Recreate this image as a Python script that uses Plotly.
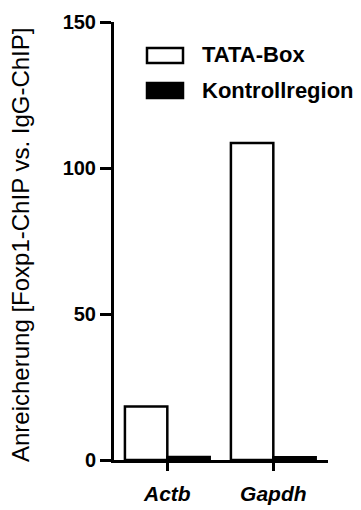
import plotly.graph_objects as go

genes = ["Actb", "Gapdh"]
series_names = ["TATA-Box", "Kontrollregion"]
tata_box = [18.3, 108.6]
kontrollregion = [1.0, 0.9]
y_ticks = [0, 50, 100, 150]

FONT = "Liberation Sans, Arial, sans-serif"

fig = go.Figure()
fig.add_trace(go.Bar(x=genes, y=tata_box, name=series_names[0],
                     marker=dict(color="white", line=dict(color="black", width=2.5)),
                     showlegend=False))
fig.add_trace(go.Bar(x=genes, y=kontrollregion, name=series_names[1],
                     marker=dict(color="black", line=dict(color="black", width=2.5)),
                     showlegend=False))

W, H = 361, 510
L, R, T, B = 114, 33, 22, 50
pw, ph = W - L - R, H - T - B

def px(x):
    return (x - L) / pw

def py(y):
    return (H - B - y) / ph

# custom legend
fig.add_shape(type="rect", xref="paper", yref="paper",
              x0=px(147), x1=px(183), y0=py(63), y1=py(48),
              line=dict(color="black", width=2.5), fillcolor="white")
fig.add_shape(type="rect", xref="paper", yref="paper",
              x0=px(147), x1=px(183), y0=py(98), y1=py(83),
              line=dict(color="black", width=2.5), fillcolor="black")
for name, yy in zip(series_names, [55, 90]):
    fig.add_annotation(text=f"<b>{name}</b>", xref="paper", yref="paper",
                       x=px(200), y=py(yy), xanchor="left", yanchor="middle",
                       showarrow=False, font=dict(family=FONT, size=22, color="black"))

fig.add_annotation(text="Anreicherung [Foxp1-ChIP vs. IgG-ChIP]", xref="paper", yref="paper",
                   x=px(20), y=py(245), xanchor="center", yanchor="middle", textangle=-90,
                   showarrow=False, font=dict(family=FONT, size=24, color="black"))

fig.update_layout(
    width=W, height=H,
    margin=dict(l=L, r=R, t=T, b=B, pad=0),
    plot_bgcolor="white", paper_bgcolor="white",
    barmode="group", bargap=0.2, bargroupgap=0,
    font=dict(family=FONT, color="black"),
    hovermode=False,
)
fig.update_xaxes(range=[-0.503, 1.516], showline=True, linecolor="black", linewidth=3,
                 ticks="outside", ticklen=8, tickwidth=2.5, tickcolor="black",
                 tickvals=genes, ticktext=[f"<b><i>{g}</i></b>" for g in genes],
                 tickfont=dict(family=FONT, size=21), showgrid=False, zeroline=False,
                 ticklabelstandoff=5, automargin=False, fixedrange=True)
fig.update_yaxes(range=[0, 150], showline=True, linecolor="black", linewidth=3,
                 ticks="outside", ticklen=11, tickwidth=2.5, tickcolor="black",
                 tickvals=y_ticks, ticktext=[f"<b>{v}</b>" for v in y_ticks],
                 tickfont=dict(family=FONT, size=20), showgrid=False, zeroline=False,
                 automargin=False, fixedrange=True)

fig.write_html("out.html", config={"displayModeBar": False},
               post_script="document.body.style.margin='0';")
